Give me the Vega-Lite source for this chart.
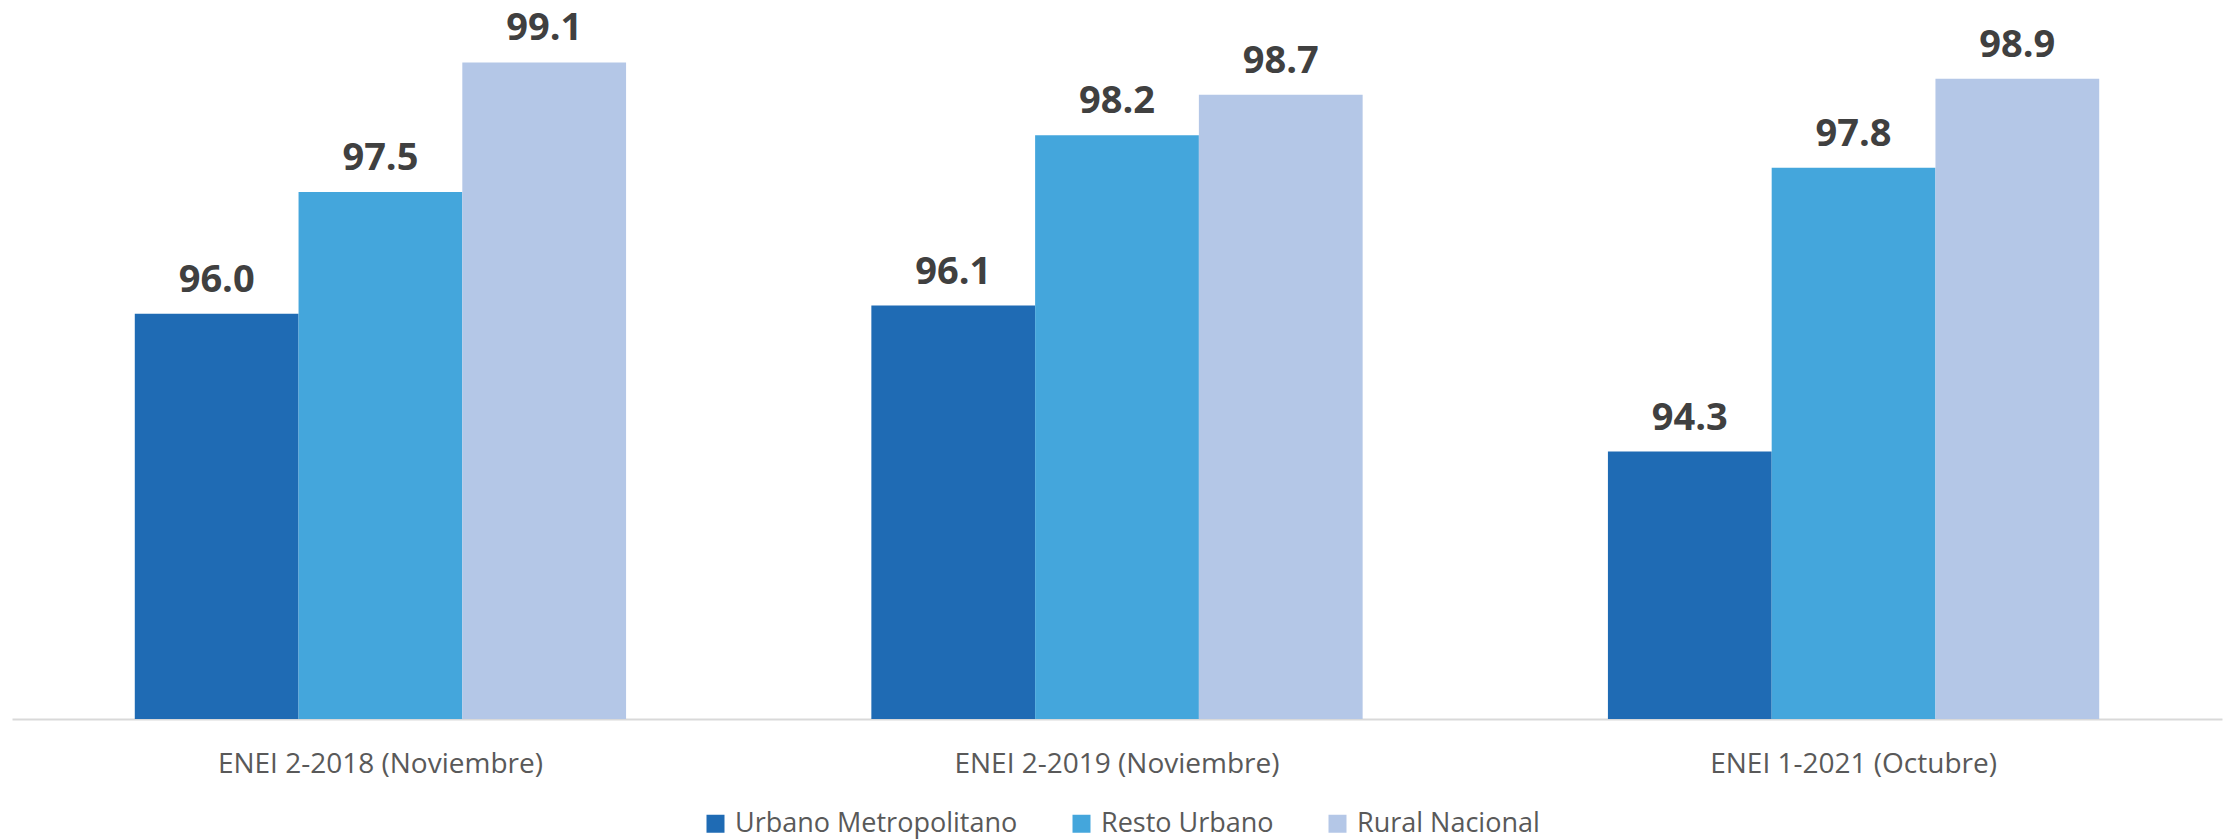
{
  "$schema": "https://vega.github.io/schema/vega-lite/v6.json",
  "width": 2210,
  "height": 719,
  "padding": {"left": 12, "top": 0, "right": 4, "bottom": 120},
  "autosize": {"type": "none"},
  "background": "white",
  "config": {"view": {"stroke": null}, "font": "Open Sans"},
  "data": {
    "values": [
      {"periodo": "ENEI 2-2018 (Noviembre)", "serie": "Urbano Metropolitano", "valor": 96.0},
      {"periodo": "ENEI 2-2018 (Noviembre)", "serie": "Resto Urbano", "valor": 97.5},
      {"periodo": "ENEI 2-2018 (Noviembre)", "serie": "Rural Nacional", "valor": 99.1},
      {"periodo": "ENEI 2-2019 (Noviembre)", "serie": "Urbano Metropolitano", "valor": 96.1},
      {"periodo": "ENEI 2-2019 (Noviembre)", "serie": "Resto Urbano", "valor": 98.2},
      {"periodo": "ENEI 2-2019 (Noviembre)", "serie": "Rural Nacional", "valor": 98.7},
      {"periodo": "ENEI 1-2021 (Octubre)", "serie": "Urbano Metropolitano", "valor": 94.3},
      {"periodo": "ENEI 1-2021 (Octubre)", "serie": "Resto Urbano", "valor": 97.8},
      {"periodo": "ENEI 1-2021 (Octubre)", "serie": "Rural Nacional", "valor": 98.9}
    ]
  },
  "encoding": {
    "x": {
      "field": "periodo",
      "type": "nominal",
      "sort": ["ENEI 2-2018 (Noviembre)", "ENEI 2-2019 (Noviembre)", "ENEI 1-2021 (Octubre)"],
      "scale": {"paddingInner": 0.333, "paddingOuter": 0.1667},
      "axis": {
        "title": null,
        "labelAngle": 0,
        "labelFontSize": 28,
        "labelColor": "#595959",
        "labelFont": "Open Sans",
        "labelLimit": 0,
        "domainColor": "#d9d9d9",
        "domainWidth": 2,
        "ticks": false,
        "tickSize": 0,
        "labelPadding": 31,
        "grid": false
      }
    },
    "xOffset": {
      "field": "serie",
      "type": "nominal",
      "sort": ["Urbano Metropolitano", "Resto Urbano", "Rural Nacional"],
      "scale": {"paddingInner": 0, "paddingOuter": 0}
    },
    "y": {
      "field": "valor",
      "type": "quantitative",
      "scale": {"domain": [91, 99.87], "zero": false, "nice": false},
      "axis": null
    }
  },
  "layer": [
    {
      "mark": {"type": "bar", "clip": true},
      "encoding": {
        "y2": {"datum": 91},
        "color": {
          "field": "serie",
          "type": "nominal",
          "sort": ["Urbano Metropolitano", "Resto Urbano", "Rural Nacional"],
          "scale": {
            "domain": ["Urbano Metropolitano", "Resto Urbano", "Rural Nacional"],
            "range": ["#1F6BB4", "#44A6DC", "#B4C7E7"]
          },
          "legend": {
            "title": null,
            "orient": "none",
            "legendX": 690,
            "legendY": 810,
            "direction": "horizontal",
            "symbolType": "square",
            "symbolSize": 324,
            "symbolStrokeWidth": 0,
            "symbolOpacity": 1,
            "labelFontSize": 27,
            "labelFont": "Open Sans",
            "labelColor": "#595959",
            "labelLimit": 0,
            "labelOffset": 6,
            "columnPadding": 50,
            "padding": 0
          }
        }
      }
    },
    {
      "mark": {
        "type": "text",
        "dy": -22,
        "baseline": "alphabetic",
        "fontSize": 38,
        "fontWeight": "bold",
        "font": "Open Sans",
        "color": "#404040"
      },
      "encoding": {
        "text": {"field": "valor", "type": "quantitative", "format": ".1f"}
      }
    }
  ]
}
